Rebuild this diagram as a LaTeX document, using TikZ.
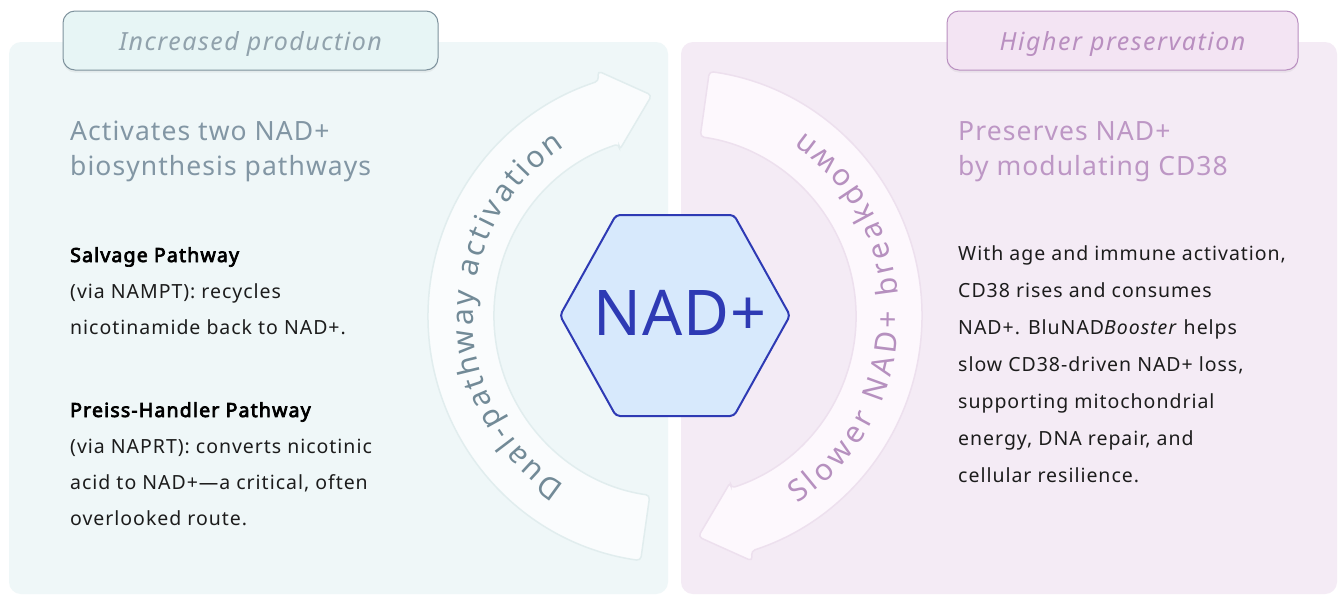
\documentclass[tikz,border=0pt]{standalone}
\usepackage{fontspec}
\setmainfont{Noto Sans}
\newfontfamily\semibold{Noto Sans}[FakeBold=3.6]
\usetikzlibrary{calc,decorations.text,shadows}
\definecolor{lpanel}{HTML}{EFF7F8}
\definecolor{rpanel}{HTML}{F4EBF5}
\definecolor{lbox}{HTML}{E7F5F5}
\definecolor{lboxd}{HTML}{7E929D}
\definecolor{rbox}{HTML}{F3E4F3}
\definecolor{rboxd}{HTML}{B98FC0}
\definecolor{lhead}{HTML}{8296A4}
\definecolor{rhead}{HTML}{BD97C5}
\definecolor{bodyc}{HTML}{1C1C1C}
\definecolor{larc}{HTML}{FAFCFD}
\definecolor{rarc}{HTML}{FDF8FD}
\definecolor{larcedge}{HTML}{E1EDEE}
\definecolor{rarcedge}{HTML}{EDE0EE}
\definecolor{larctxt}{HTML}{728A97}
\definecolor{rarctxt}{HTML}{B690BF}
\definecolor{hexfill}{HTML}{D7E9FC}
\definecolor{hexline}{HTML}{2E3AB4}
\tikzset{
  panel/.style={rounded corners=12pt, inner sep=0pt, draw=none},
  tagbox/.style={rounded corners=12pt, inner sep=0pt, minimum height=59pt, line width=1pt,
     text depth=0pt,
     font=\fontsize{25}{28}\selectfont\itshape\addfontfeature{LetterSpace=6},
     drop shadow={opacity=0.10, shadow xshift=0pt, shadow yshift=-2.5pt}},
  headtxt/.style={anchor=base west, inner sep=0pt,
     font=\fontsize{26.5}{30}\selectfont\addfontfeature{LetterSpace=4}},
  bodytxt/.style={anchor=base west, inner sep=0pt, text=bodyc,
     font=\fontsize{19.5}{22}\selectfont\addfontfeature{LetterSpace=5}},
  boldtxt/.style={anchor=base west, inner sep=0pt, text=black,
     font=\semibold\fontsize{19.5}{22}\selectfont\addfontfeature{LetterSpace=6}},
  ringarrow/.style={line width=1.5pt, rounded corners=4pt},
}
\begin{document}
\begin{tikzpicture}[x=1pt,y=1pt]
\useasboundingbox (0,0) rectangle (1338,-595);
\fill[white] (0,0) rectangle (1338,-595);
% panels
\node[panel, fill=lpanel, minimum width=659pt, minimum height=552pt] (lp) at (338.5,-318) {};
\node[panel, fill=rpanel, minimum width=656pt, minimum height=552pt] (rp) at (1009,-318) {};
% tags
\node[tagbox, fill=lbox, draw=lboxd, text=lboxd!85, minimum width=375pt] (ltag) at (250.5,-40.5) {Increased production};
\node[tagbox, fill=rbox, draw=rboxd, text=rboxd, minimum width=351pt] (rtag) at (1122.5,-40.5) {Higher preservation};
% headings
\node[headtxt, text=lhead] (lh1) at (70,-140) {Activates two NAD+};
\node[headtxt, text=lhead] (lh2) at (70,-175) {biosynthesis pathways};
\node[headtxt, text=rhead] (rh1) at (958,-140) {Preserves NAD+};
\node[headtxt, text=rhead] (rh2) at (958,-175) {by modulating CD38};
% left body
\node[boldtxt] (l1) at (70,-262) {Salvage Pathway};
\node[bodytxt] (l2) at (70,-298) {(via NAMPT): recycles};
\node[bodytxt] (l3) at (70,-334) {nicotinamide back to NAD+.};
\node[boldtxt] (l4) at (70,-417) {Preiss-Handler Pathway};
\node[bodytxt] (l5) at (70,-453) {(via NAPRT): converts nicotinic};
\node[bodytxt] (l6) at (70,-489) {acid to NAD+\textemdash a critical, often};
\node[bodytxt] (l7) at (70,-525) {overlooked route.};
% right body
\node[bodytxt] (r1) at (958,-260) {With age and immune activation,};
\node[bodytxt] (r2) at (958,-297) {CD38 rises and consumes};
\node[bodytxt] (r3) at (958,-334) {NAD+. BluNAD\textit{Booster} helps};
\node[bodytxt] (r4) at (958,-371) {slow CD38-driven NAD+ loss,};
\node[bodytxt] (r5) at (958,-408) {supporting mitochondrial};
\node[bodytxt] (r6) at (958,-445) {energy, DNA repair, and};
\node[bodytxt] (r7) at (958,-482) {cellular resilience.};
% ring arrows
\coordinate (C) at (675,-316);
\filldraw[ringarrow, fill=larc, draw=larcedge]
  ($(C)+(262:247)$) arc[start angle=262, end angle=108, radius=247]
  -- ($(C)+(107.5:257)$) -- ($(C)+(96:222)$) -- ($(C)+(108.5:175)$)
  -- ($(C)+(108:181)$) arc[start angle=108, end angle=262, radius=181] -- cycle;
\filldraw[ringarrow, fill=rarc, draw=rarcedge]
  ($(C)+(82:247)$) arc[start angle=82, end angle=-72, radius=247]
  -- ($(C)+(-72.5:257)$) -- ($(C)+(-84:222)$) -- ($(C)+(-71.5:175)$)
  -- ($(C)+(-72:181)$) arc[start angle=-72, end angle=82, radius=181] -- cycle;
% ring texts
\path[decorate, decoration={text along path, text align={fit to path},
   text={|\fontsize{30}{30}\selectfont\color{larctxt}|Dual-pathway activation}}]
  ($(C)+(237:202)$) arc[start angle=237, end angle=123, radius=202];
\path[decorate, decoration={text along path, text align={fit to path},
   text={|\fontsize{30}{30}\selectfont\color{rarctxt}|Slower NAD+ breakdown}}]
  ($(C)+(-57:224)$) arc[start angle=-57, end angle=55, radius=224];
% hexagon
\coordinate (H) at (675,-315.5);
\filldraw[fill=hexfill, draw=hexline, line width=2pt, rounded corners=4pt]
  ($(H)+(-115,0)$) -- ($(H)+(-59,100.5)$) -- ($(H)+(59,100.5)$) -- ($(H)+(115,0)$)
  -- ($(H)+(59,-100.5)$) -- ($(H)+(-59,-100.5)$) -- cycle;
\node[anchor=base, inner sep=0pt, text=hexline, font=\fontsize{63}{63}\selectfont\addfontfeature{LetterSpace=2}] (nad) at (680,-335) {NAD+};
\end{tikzpicture}
\end{document}
